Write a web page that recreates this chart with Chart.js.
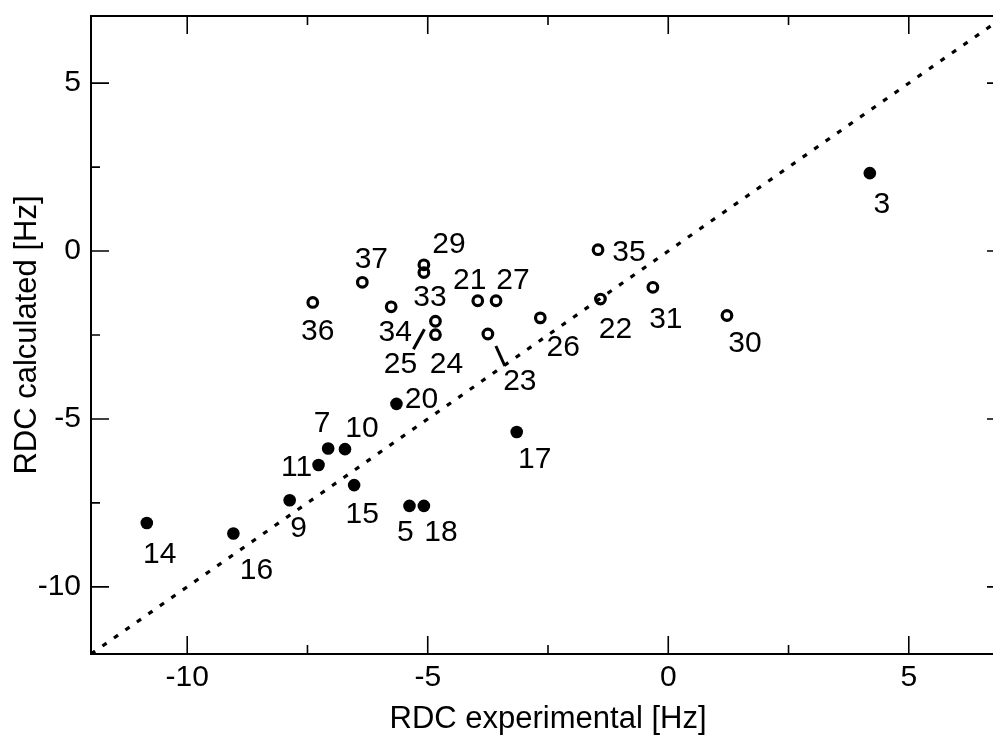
<!DOCTYPE html>
<html>
<head>
<meta charset="utf-8">
<script src="https://cdn.jsdelivr.net/npm/chart.js@4.4.1/dist/chart.umd.min.js"></script>
<style>
  html, body { margin: 0; padding: 0; background: #fff; overflow: hidden; }
  #wrap { width: 1020px; height: 735px; }
</style>
</head>
<body>
<div id="wrap"><canvas id="rdcChart" width="1020" height="735"></canvas></div>
<script>
// ===== DATA =====
// filled circles
const filledLabels = ['3', '5', '7', '9', '10', '11', '14', '15', '16', '17', '18', '20'];
const filledX = [4.19, -5.38, -7.07, -7.87, -6.72, -7.27, -10.84, -6.53, -9.04, -3.15, -5.08, -5.65];
const filledY = [2.32, -7.59, -5.88, -7.42, -5.90, -6.37, -8.10, -6.97, -8.41, -5.39, -7.59, -4.55];

// open circles
const openLabels = ['21', '22', '23', '24', '25', '26', '27', '29', '30', '31', '33', '34', '35', '36', '37'];
const openX = [-3.96, -1.41, -3.75, -4.84, -4.84, -2.66, -3.58, -5.08, 1.22, -0.32, -5.08, -5.76, -1.46, -7.39, -6.36];
const openY = [-1.48, -1.43, -2.47, -2.49, -2.09, -1.99, -1.48, -0.41, -1.92, -1.08, -0.64, -1.66, 0.04, -1.53, -0.93];

// y = x reference line
const diagX = [-12, 7];
const diagY = [-12, 7];

const xTickValues = [-10, -5, 0, 5];
const yTickValues = [-10, -5, 0, 5];
const axisMin = -12, axisMax = 7;
const minorStep = 2.5;

const xTitle = 'RDC experimental [Hz]';
const yTitle = 'RDC calculated [Hz]';

// ===== LABEL PLACEMENT (pixel offsets from the point) =====
const labelOffset = {
  '3': [12, 29], '5': [-4, 24], '7': [-6, -27], '9': [9, 26], '10': [17, -23],
  '11': [-22, 0], '14': [13, 29], '15': [8, 27], '16': [23, 35], '17': [18, 25],
  '18': [17, 24], '20': [25, -7],
  '21': [-8, -23], '22': [15, 28], '23': [32, 45], '24': [11, 28], '25': [-35, 41],
  '26': [23, 27], '27': [17, -23], '29': [25, -23], '30': [18, 26], '31': [13, 30],
  '33': [6, 23], '34': [4, 23], '35': [31, 0], '36': [5, 27], '37': [9, -25]
};
// leader lines, relative to the point
const leaders = {
  '25': [-22, 28, -11, 8],
  '23': [8, 12, 17, 32]
};

const FONT = "'Liberation Sans', Arial, sans-serif";
const LABEL_SIZE = 30;

const toPts = (xs, ys) => xs.map((v, i) => ({ x: v, y: ys[i] }));

// ===== PLUGINS =====
const frameTicks = {
  id: 'frameTicks',
  afterDatasetsDraw(chart) {
    const { ctx, chartArea: a, scales: { x, y } } = chart;
    ctx.save();
    ctx.strokeStyle = '#000';
    ctx.lineWidth = 1.6;
    ctx.beginPath();
    for (let v = Math.ceil(axisMin / minorStep) * minorStep; v <= axisMax + 1e-9; v += minorStep) {
      const len = Math.abs(v % 5) < 1e-9 ? 18 : 9;
      const px = x.getPixelForValue(v);
      ctx.moveTo(px, a.bottom); ctx.lineTo(px, a.bottom - len);
      ctx.moveTo(px, a.top); ctx.lineTo(px, a.top + len);
      const py = y.getPixelForValue(v);
      ctx.moveTo(a.left, py); ctx.lineTo(a.left + len, py);
      ctx.moveTo(a.right, py); ctx.lineTo(a.right - len, py);
    }
    ctx.stroke();
    ctx.lineWidth = 2;
    ctx.strokeRect(a.left, a.top, a.right - a.left, a.bottom - a.top);
    ctx.restore();
  }
};

const pointLabels = {
  id: 'pointLabels',
  afterDatasetsDraw(chart) {
    const { ctx } = chart;
    ctx.save();
    ctx.fillStyle = '#000';
    ctx.strokeStyle = '#000';
    ctx.font = `${LABEL_SIZE}px ${FONT}`;
    ctx.textAlign = 'center';
    ctx.textBaseline = 'alphabetic';
    chart.data.datasets.forEach((ds, di) => {
      if (!ds.labels) return;
      const meta = chart.getDatasetMeta(di);
      meta.data.forEach((el, i) => {
        const lab = ds.labels[i];
        const off = labelOffset[lab] || [0, 24];
        ctx.fillText(lab, el.x + off[0], el.y + off[1] + LABEL_SIZE * 0.36);
        const ld = leaders[lab];
        if (ld) {
          ctx.lineWidth = 3;
          ctx.beginPath();
          ctx.moveTo(el.x + ld[0], el.y + ld[1]);
          ctx.lineTo(el.x + ld[2], el.y + ld[3]);
          ctx.stroke();
        }
      });
    });
    ctx.restore();
  }
};

// ===== CHART =====
new Chart(document.getElementById('rdcChart'), {
  type: 'scatter',
  data: {
    datasets: [
      {
        type: 'line',
        data: toPts(diagX, diagY),
        borderColor: '#000',
        borderWidth: 3.2,
        borderDash: [5, 9],
        pointRadius: 0,
        fill: false,
        order: 3
      },
      {
        labels: openLabels,
        data: toPts(openX, openY),
        pointRadius: 4.8,
        pointBorderWidth: 3.2,
        pointBorderColor: '#000',
        pointBackgroundColor: 'rgba(0,0,0,0)',
        order: 2
      },
      {
        labels: filledLabels,
        data: toPts(filledX, filledY),
        pointRadius: 6.3,
        pointBorderWidth: 0,
        pointBackgroundColor: '#000',
        order: 1
      }
    ]
  },
  options: {
    responsive: false,
    animation: false,
    layout: { padding: { left: 0, top: 16, right: 15, bottom: 0 } },
    plugins: { legend: { display: false }, tooltip: { enabled: false } },
    scales: {
      x: {
        type: 'linear',
        min: axisMin, max: axisMax,
        grid: { display: false, drawTicks: false },
        border: { display: false },
        afterBuildTicks: s => { s.ticks = xTickValues.map(v => ({ value: v })); },
        afterFit: s => { s.height = 81; s.paddingLeft = 0; s.paddingRight = 0; },
        ticks: { color: '#000', font: { family: FONT, size: 30 }, padding: 6, maxRotation: 0 },
        title: { display: true, text: xTitle, color: '#000', font: { family: FONT, size: 31, lineHeight: 1 }, padding: 0 }
      },
      y: {
        type: 'linear',
        min: axisMin, max: axisMax,
        grid: { display: false, drawTicks: false },
        border: { display: false },
        afterBuildTicks: s => { s.ticks = yTickValues.map(v => ({ value: v })); },
        afterFit: s => { s.width = 91; s.paddingTop = 0; s.paddingBottom = 0; },
        ticks: { color: '#000', font: { family: FONT, size: 30 }, padding: 10 },
        title: { display: true, text: yTitle, color: '#000', font: { family: FONT, size: 31, lineHeight: 1 }, padding: { top: 12, bottom: 0 } }
      }
    }
  },
  plugins: [frameTicks, pointLabels]
});
</script>
</body>
</html>
